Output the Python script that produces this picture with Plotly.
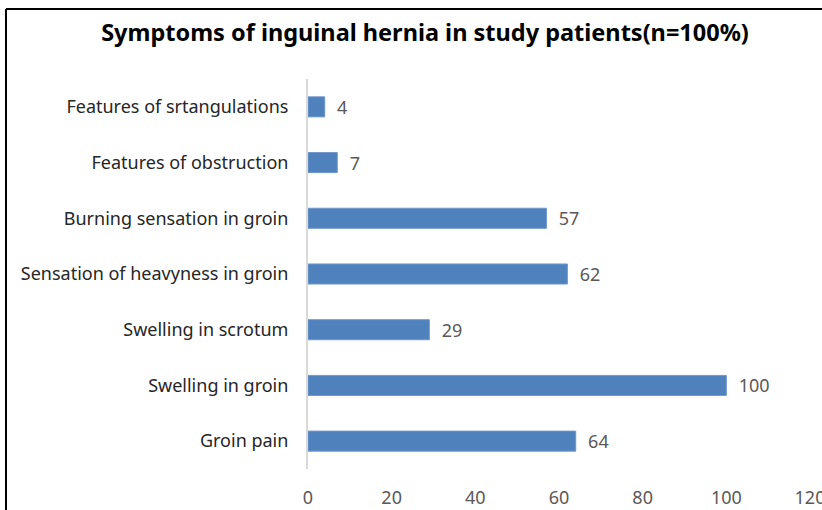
import plotly.graph_objects as go

categories = ["Groin pain", "Swelling in groin", "Swelling in scrotum",
              "Sensation of heavyness in groin", "Burning sensation in groin",
              "Features of obstruction", "Features of srtangulations"]
values = [64, 100, 29, 62, 57, 7, 4]
x_ticks = [0, 20, 40, 60, 80, 100, 120]
title_text = "Symptoms of inguinal hernia in study patients(n=100%)"

W, H = 822, 510
L, R, T, B = 308, 12, 79, 41
pw, ph = W - L - R, H - T - B

def px_x(p):
    return (p - L) / pw

def px_y(p):
    return (H - B - p) / ph

FONT = "Noto Sans"

fig = go.Figure(go.Bar(
    y=categories, x=values, orientation="h",
    marker=dict(color="#4f81bd", line=dict(color="#6f97c9", width=1)),
    width=0.36,
    text=[f"  {v}" for v in values], textposition="outside",
    constraintext="none",
    textfont=dict(family=FONT, size=18, color="#595959"),
    cliponaxis=False,
))

fig.update_layout(
    width=W, height=H,
    margin=dict(l=L, r=R, t=T, b=B, autoexpand=False),
    paper_bgcolor="white", plot_bgcolor="white",
    showlegend=False,
    title=dict(text=f"<b>{title_text}</b>", x=425 / W, xanchor="center",
               y=1 - 33 / H, yanchor="middle",
               font=dict(family=FONT, size=23.5, color="#000000")),
    xaxis=dict(range=[0, 120], tickvals=x_ticks, showgrid=False, zeroline=False,
               showline=False, ticks="outside", ticklen=12, tickcolor="rgba(0,0,0,0)",
               automargin=False, ticklabeloverflow="allow",
               tickfont=dict(family=FONT, size=18, color="#595959")),
    yaxis=dict(showgrid=False, zeroline=False, showline=True, linecolor="#d9d9d9",
               linewidth=2, ticks="outside", ticklen=14, tickcolor="rgba(0,0,0,0)",
               automargin=False,
               tickfont=dict(family=FONT, size=18, color="#262626")),
    shapes=[
        dict(type="line", xref="paper", yref="paper", x0=px_x(6), x1=px_x(6),
             y0=px_y(520), y1=px_y(9), line=dict(color="black", width=2)),
        dict(type="line", xref="paper", yref="paper", x0=px_x(6), x1=px_x(830),
             y0=px_y(9), y1=px_y(9), line=dict(color="black", width=2)),
    ],
)

fig.write_html("out.html", config={"displayModeBar": False},
               post_script="document.body.style.margin='0px';")
